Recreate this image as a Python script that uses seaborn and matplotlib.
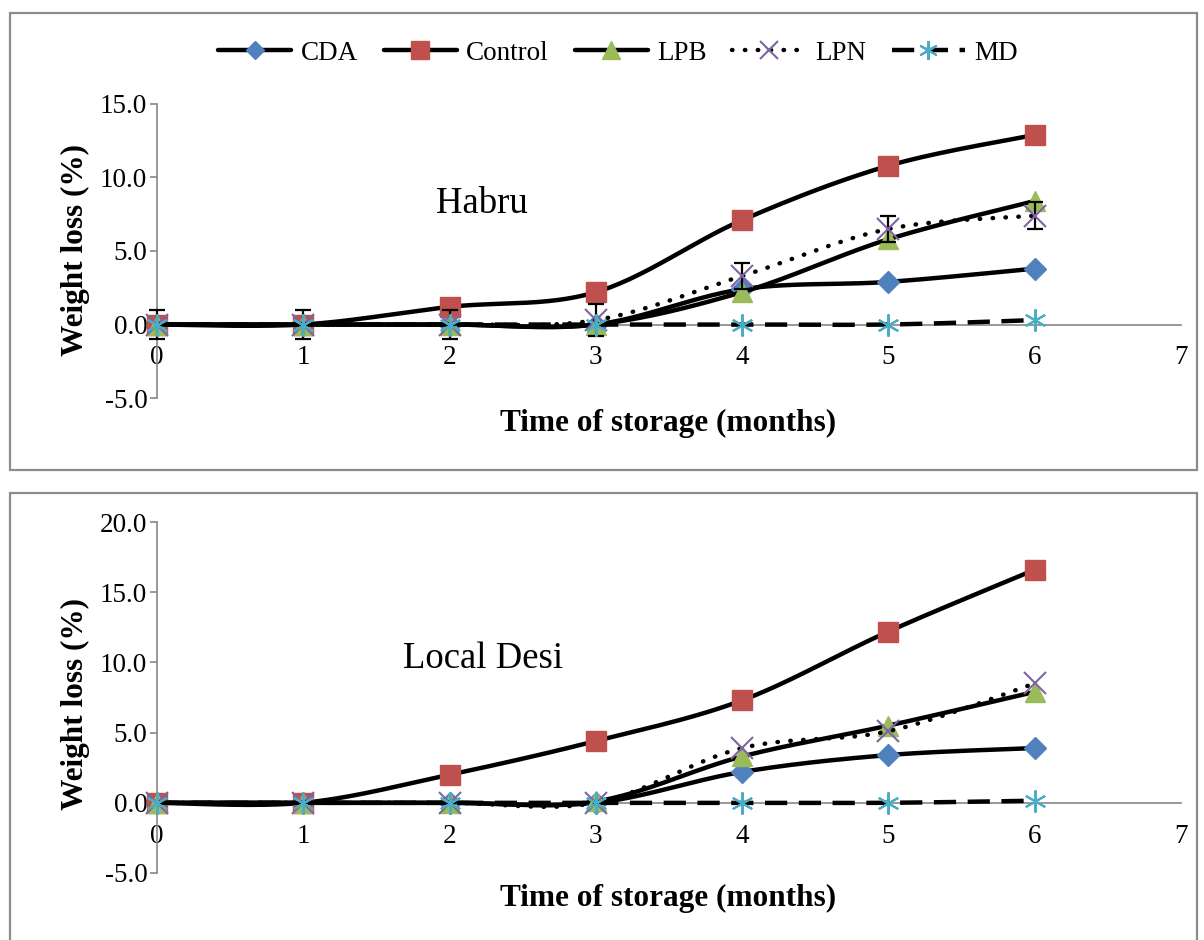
import numpy as np
import pandas as pd
import matplotlib
matplotlib.use("Agg")
import matplotlib.pyplot as plt
import seaborn as sns
from matplotlib.lines import Line2D
from matplotlib.patches import Rectangle
from matplotlib.ticker import FixedLocator, FuncFormatter

# ---------------- data ----------------
months = [0, 1, 2, 3, 4, 5, 6]
series_names = ["CDA", "Control", "LPB", "LPN", "MD"]

habru_cda = [0.0, 0.0, 0.0, 0.0, 2.4, 2.9, 3.8]
habru_control = [0.0, 0.0, 1.2, 2.2, 7.1, 10.8, 12.9]
habru_lpb = [0.0, 0.0, 0.0, 0.0, 2.2, 5.8, 8.4]
habru_lpn = [0.0, 0.0, 0.0, 0.3, 3.3, 6.5, 7.4]
habru_md = [0.0, 0.0, 0.0, 0.0, 0.0, 0.0, 0.3]
habru_lpn_err = [1.0, 1.0, 1.0, 1.1, 0.9, 0.9, 0.9]

desi_cda = [0.0, 0.0, 0.0, 0.0, 2.2, 3.4, 3.9]
desi_control = [0.0, 0.0, 2.0, 4.4, 7.3, 12.2, 16.6]
desi_lpb = [0.0, 0.0, 0.0, 0.1, 3.3, 5.5, 7.9]
desi_lpn = [0.0, 0.0, 0.0, 0.0, 3.9, 5.1, 8.5]
desi_md = [0.0, 0.0, 0.0, 0.0, 0.0, 0.0, 0.15]

x_ticks = [0, 1, 2, 3, 4, 5, 6, 7]
habru_yticks = [-5.0, 0.0, 5.0, 10.0, 15.0]
desi_yticks = [-5.0, 0.0, 5.0, 10.0, 15.0, 20.0]

# ---------------- style ----------------
sns.set_theme(style="white")
plt.rcParams["font.family"] = ["Liberation Serif", "DejaVu Serif"]
plt.rcParams["axes.unicode_minus"] = False
plt.rcParams["text.color"] = "black"
plt.rcParams["axes.labelcolor"] = "black"
plt.rcParams["xtick.color"] = "black"
plt.rcParams["ytick.color"] = "black"

styles = {
    "CDA": dict(marker="D", ms=11, mfc="#4F81BD", mec="#4F81BD", ls="-", mew=1),
    "Control": dict(marker="s", ms=15, mfc="#C0504D", mec="#C0504D", ls="-", mew=1),
    "LPB": dict(marker="^", ms=15, mfc="#9BBB59", mec="#9BBB59", ls="-", mew=1),
    "LPN": dict(marker="x", ms=16, mfc="#8064A2", mec="#8064A2", ls=(0, (0.1, 2.8)), mew=1.5),
    "MD": dict(marker=(6, 2, 0), ms=16, mfc="#4BACC6", mec="#4BACC6", ls=(0, (5.0, 2.6)), mew=1.5),
}
LW = 3.2
GRAY = "#868686"


def smooth(xs, ys, n=30):
    """Excel-like smoothed (Bezier) curve through the data points."""
    P = np.column_stack([xs, ys]).astype(float)
    out = []
    m = len(P)
    for i in range(m - 1):
        p0 = P[max(i - 1, 0)]
        p1 = P[i]
        p2 = P[i + 1]
        p3 = P[min(i + 2, m - 1)]
        c1 = p1 + (p2 - p0) / 6.0
        c2 = p2 - (p3 - p1) / 6.0
        t = np.linspace(0, 1, n, endpoint=(i == m - 2))[:, None]
        seg = ((1 - t) ** 3) * p1 + 3 * ((1 - t) ** 2) * t * c1 + 3 * (1 - t) * t ** 2 * c2 + t ** 3 * p2
        out.append(seg)
    out = np.vstack(out)
    return out[:, 0], out[:, 1]


fig = plt.figure(figsize=(12.04, 9.4), dpi=100)
W, H = 1204.0, 940.0

# panel frames
fig.patches.append(Rectangle((10 / W, 1 - 470 / H), (1197 - 10) / W, (470 - 13) / H,
                             transform=fig.transFigure, fill=False, ec="#8c8c8c", lw=1.6))
fig.patches.append(Rectangle((10 / W, -0.05), (1197 - 10) / W, (1 - 493 / H) + 0.05,
                             transform=fig.transFigure, fill=False, ec="#8c8c8c", lw=1.6))


def draw_panel(rect, data, yticks, ylim, title, title_xy, ylab_y, xlab_y, err=None):
    ax = fig.add_axes(rect)
    ax.set_xlim(0, 7)
    ax.set_ylim(*ylim)
    z = 3
    for name, vals in zip(series_names, data):
        st = styles[name]
        sx, sy = smooth(months, vals)
        df = pd.DataFrame({"x": sx, "y": sy})
        sns.lineplot(data=df, x="x", y="y", sort=False, estimator=None, ax=ax,
                     color="black", lw=LW, linestyle=st["ls"], clip_on=False, zorder=z,
                     dash_capstyle="round" if name == "LPN" else "butt")
        if err is not None and name == "LPN":
            ax.errorbar(months, vals, yerr=err, fmt="none", ecolor="black",
                        elinewidth=1.6, capsize=6, capthick=1.6, clip_on=False, zorder=z + 0.1)
        ax.plot(months, vals, linestyle="none", marker=st["marker"], ms=st["ms"],
                mfc=st["mfc"], mec=st["mec"], mew=st["mew"], clip_on=False, zorder=z + 0.2)
        z += 1
    # axes styling
    for s in ["top", "right"]:
        ax.spines[s].set_visible(False)
    for s in ["left", "bottom"]:
        ax.spines[s].set_color(GRAY)
        ax.spines[s].set_linewidth(1.2)
        ax.spines[s].set_zorder(1)
    ax.spines["bottom"].set_position(("data", 0))
    ax.xaxis.set_major_locator(FixedLocator(x_ticks))
    ax.xaxis.set_major_formatter(FuncFormatter(lambda v, p: f"{int(v)}"))
    ax.yaxis.set_major_locator(FixedLocator(yticks))
    ax.yaxis.set_major_formatter(FuncFormatter(lambda v, p: f"{v:.1f}"))
    ax.tick_params(axis="y", which="major", left=True, length=5, width=1.2, color=GRAY,
                   labelsize=19.5, pad=2, labelcolor="black")
    ax.tick_params(axis="x", which="major", bottom=True, length=0, labelsize=19.5,
                   pad=15, labelcolor="black")
    ax.set_xlabel("")
    ax.set_ylabel("")
    ax.grid(False)
    ax.set_facecolor("none")
    fig.text(title_xy[0] / W, 1 - title_xy[1] / H, title, fontsize=26.5,
             ha="center", va="center", color="black")
    fig.text(75 / W, 1 - ylab_y / H, "Weight loss (%)", rotation=90, fontsize=22.5,
             fontweight="bold", ha="center", va="center", color="black")
    fig.text(668 / W, 1 - xlab_y / H, "Time of storage (months)", fontsize=22.5,
             fontweight="bold", ha="center", va="center", color="black")
    return ax


ax1 = draw_panel([157 / W, 1 - 398 / H, 1024 / W, 294 / H],
                 [habru_cda, habru_control, habru_lpb, habru_lpn, habru_md],
                 habru_yticks, (-5, 15), "Habru", (482, 204), 250, 423, err=habru_lpn_err)
ax2 = draw_panel([157 / W, 1 - 873 / H, 1024 / W, 351 / H],
                 [desi_cda, desi_control, desi_lpb, desi_lpn, desi_md],
                 desi_yticks, (-5, 20), "Local Desi", (483, 659), 704, 898)

handles = []
for name in series_names:
    st = styles[name]
    handles.append(Line2D([0], [0], color="black", lw=LW, linestyle=st["ls"],
                          marker=st["marker"], ms=st["ms"] * 0.85, mfc=st["mfc"],
                          mec=st["mec"], mew=st["mew"],
                          dash_capstyle="round" if name == "LPN" else "butt"))
fig.legend(handles, series_names, loc="center", bbox_to_anchor=(618 / W, 1 - 53 / H),
           ncol=5, frameon=False, fontsize=19.5, handlelength=2.7, handletextpad=0.35,
           columnspacing=0.95, borderaxespad=0, borderpad=0)

fig.savefig("out.png", dpi=100)
